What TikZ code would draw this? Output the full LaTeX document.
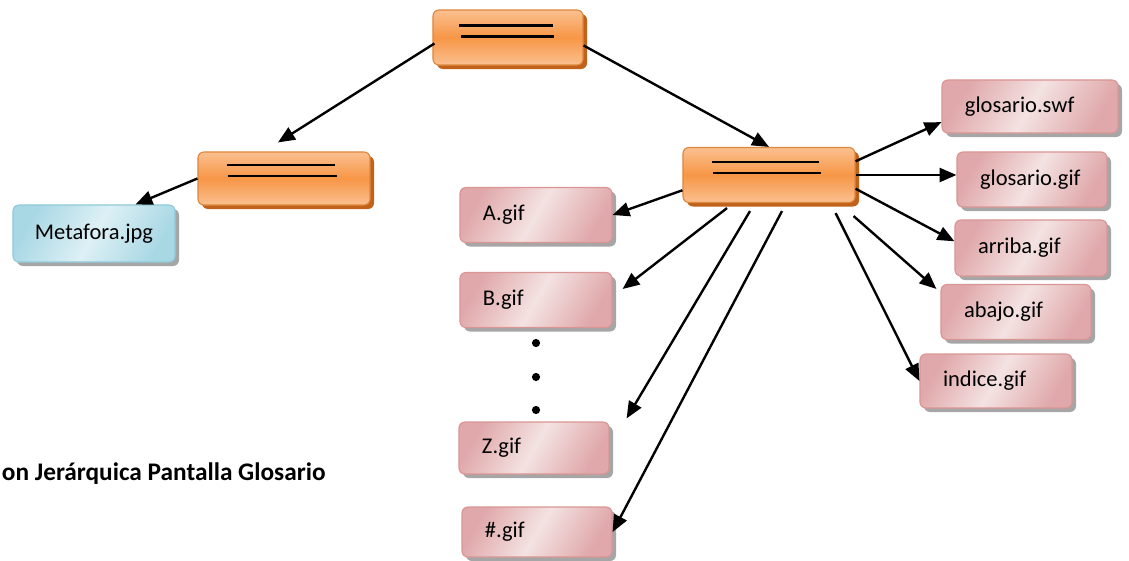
\documentclass[tikz,border=0pt]{standalone}
\usepackage{fontspec}
\setmainfont{Carlito}
\usetikzlibrary{calc, positioning}
\usetikzlibrary{arrows.meta}
\usetikzlibrary{shadows}

\definecolor{orangeL}{HTML}{FAC090}
\definecolor{orangeM}{HTML}{F79646}
\definecolor{orangeS}{HTML}{C0621A}
\definecolor{pinkL}{HTML}{F4E2E2}
\definecolor{pinkM}{HTML}{E0A8AA}
\definecolor{pinkD}{HTML}{D99694}
\definecolor{blueL}{HTML}{DDF0F5}
\definecolor{blueM}{HTML}{A9D8E5}
\definecolor{blueD}{HTML}{8FCBDB}

\begin{document}
\begin{tikzpicture}[x=0.025cm, y=-0.025cm,
    box/.style={rounded corners=0.15cm, line width=0.8pt, minimum height=1.375cm,
        font=\fontsize{16}{19}\selectfont},
    orangebox/.style={box, draw=orangeM!90!black, top color=orangeL, bottom color=orangeL,
        middle color=orangeM,
        drop shadow={shadow xshift=0.1cm, shadow yshift=-0.1cm, fill=orangeS, opacity=1}},
    pinkbox/.style={box, draw=pinkD, top color=pinkM, bottom color=pinkM, middle color=pinkL,
        shading angle=60, text width=2.65cm, inner xsep=0.575cm, align=left,
        drop shadow={shadow xshift=0.1cm, shadow yshift=-0.1cm, fill=black!35, opacity=1}},
    bluebox/.style={box, draw=blueD, top color=blueM, bottom color=blueM, middle color=blueL,
        shading angle=60,
        drop shadow={shadow xshift=0.1cm, shadow yshift=-0.1cm, fill=black!35, opacity=1}},
    dline/.style={line width=1.6pt, black},
    arr/.style={line width=1.7pt, black, -{Triangle[length=12pt,width=10pt]}}]

\useasboundingbox (0,0) rectangle (1129,560);

% Orange boxes with the two lines
\node[orangebox, minimum width=3.75cm] (root) at (508,37.5) {};
\node[orangebox, minimum width=4.3cm, minimum height=1.325cm] (menu) at (284,178.5) {};
\node[orangebox, minimum width=4.3cm] (glos) at (769,175) {};
\draw[dline] ($(root.center)+(-49,-12)$) -- ($(root.center)+(45,-12)$);
\draw[dline] ($(root.center)+(-47,-1)$) -- ($(root.center)+(46,-1)$);
\draw[dline] ($(menu.center)+(-57,-13.5)$) -- ($(menu.center)+(51,-13.5)$);
\draw[dline] ($(menu.center)+(-56,-2.5)$) -- ($(menu.center)+(53,-2.5)$);
\draw[dline] ($(glos.center)+(-57,-13)$) -- ($(glos.center)+(50,-13)$);
\draw[dline] ($(glos.center)+(-56,-2)$) -- ($(glos.center)+(52,-2)$);

% File boxes
\node[bluebox, minimum width=4.05cm, minimum height=1.425cm] (meta) at (94,233.5) {Metafora.jpg};
\node[pinkbox] (Agif) at (536,215) {A.gif};
\node[pinkbox] (Bgif) at (536,300) {B.gif};
\node[pinkbox, text width=2.6cm, minimum height=1.3cm] (Zgif) at (534,448) {Z.gif};
\node[pinkbox, text width=2.6cm, minimum height=1.25cm] (hashgif) at (537,532) {\#.gif};
\node[pinkbox, text width=3.25cm, minimum height=1.325cm] (swf) at (1030,106.5) {glosario.swf};
\node[pinkbox, text width=2.6cm] (glosgif) at (1032,179.5) {glosario.gif};
\node[pinkbox, minimum height=1.4cm] (arriba) at (1031,248) {arriba.gif};
\node[pinkbox, text width=2.6cm] (abajo) at (1016,312) {abajo.gif};
\node[pinkbox, minimum height=1.35cm] (indice) at (996,381) {indice.gif};

% Dots between B and Z
\fill (536,343) circle (2.9pt);
\fill (536,377) circle (2.9pt);
\fill (536,410) circle (2.9pt);

% Connectors
\draw[arr] ($(root.west)+(2,6)$) -- ($(menu.north)+(-6,-9)$);
\draw[arr] ($(root.east)+(0,8)$) -- (glos.north);
\draw[arr] (menu.west) -- (meta.35);
\draw[arr] (glos.190) -- (Agif.east);
\draw[arr] ($(glos.south)+(-42,5)$) -- ($(Bgif.east)+(10,-11)$);
\draw[arr] ($(glos.south)+(-19,8)$) -- ($(Zgif.north east)+(17,-3)$);
\draw[arr] ($(glos.south)+(13,8)$) -- (hashgif.east);
\draw[arr] (glos.9) -- (swf.190);
\draw[arr] (glos.east) -- (glos.east -| glosgif.west);
\draw[arr] (glos.351) -- (arriba.175);
\draw[arr] ($(glos.south east)+(-2,13)$) -- ($(abajo.north west)+(-4,5)$);
\draw[arr] ($(glos.south east)+(-20,10)$) -- (indice.west);

% Caption
\node[anchor=base west, font=\fontsize{18}{22}\selectfont\bfseries] (caption) at (-3,480)
    {on Jerárquica Pantalla Glosario};
\end{tikzpicture}
\end{document}
